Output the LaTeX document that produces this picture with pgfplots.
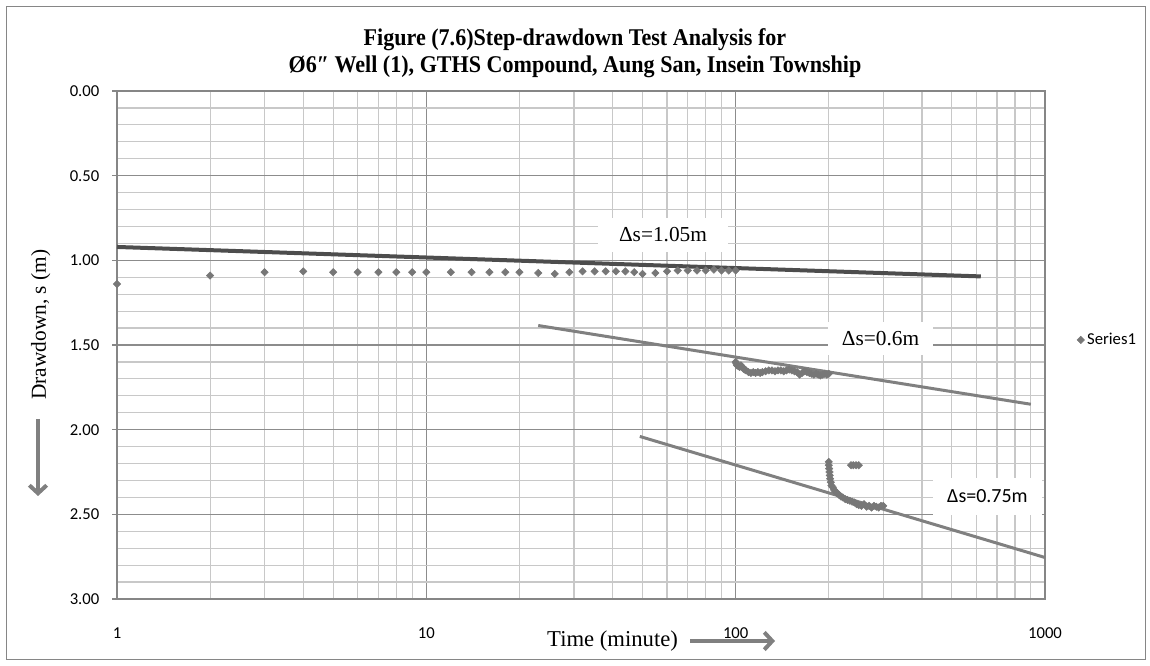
\documentclass[border=0pt]{standalone}
\usepackage{fontspec}
\setmainfont{Liberation Serif}
\newfontfamily\carlito{Carlito}
\usepackage{pgfplots}
\pgfplotsset{compat=1.18}
\usetikzlibrary{arrows.meta}

\definecolor{gridmajor}{HTML}{8C8C8C}
\definecolor{gridminor}{HTML}{C8C8C8}
\definecolor{pts}{HTML}{777777}
\definecolor{lndark}{HTML}{4D4D4D}
\definecolor{lnmid}{HTML}{808080}
\definecolor{framec}{HTML}{868686}

\begin{document}
\begin{tikzpicture}
\path[use as bounding box] (0pt,0pt) rectangle (862.5pt,499.5pt);
\draw[framec, line width=0.75pt] (4.5pt,4.5pt) rectangle (858.75pt,494.25pt);
\begin{axis}[
  at={(87.75pt,50.25pt)}, anchor=south west,
  scale only axis, width=696pt, height=381pt,
  xmode=log, xmin=1, xmax=1000,
  ymin=0, ymax=3, y dir=reverse,
  xtick={1,10,100,1000}, xticklabels={1,10,100,1000},
  minor xtick={2,3,4,5,6,7,8,9,20,30,40,50,60,70,80,90,200,300,400,500,600,700,800,900},
  ytick={0,0.5,1,1.5,2,2.5,3},
  yticklabels={0.00,0.50,1.00,1.50,2.00,2.50,3.00},
  minor ytick={0.1,0.2,0.3,0.4,0.6,0.7,0.8,0.9,1.1,1.2,1.3,1.4,1.6,1.7,1.8,1.9,2.1,2.2,2.3,2.4,2.6,2.7,2.8,2.9},
  grid=both,
  major grid style={gridmajor, line width=0.9pt},
  minor grid style={gridminor, line width=0.9pt},
  axis line style={framec, line width=0.9pt},
  tick align=outside, major tick length=3.75pt, minor tick length=0pt,
  xtick style={draw=none}, ytick style={framec, line width=0.9pt},
  ytick pos=left,
  ticklabel style={font=\carlito\fontsize{12.5}{15}\selectfont, text=black},
  xticklabel style={yshift=-14pt},
  yticklabel style={xshift=-6pt},
  clip=false,
  legend style={at={(1.03,0.51)}, anchor=west, draw=none, fill=none,
    font=\carlito\fontsize{12.5}{15}\selectfont},
  legend cell align=left,
]
% measured drawdown, one series
\addplot[only marks, mark=square*, mark size=1.95pt,
  mark options={rotate=45, fill=pts, draw=pts}] coordinates {
  (1,1.14) (2,1.09) (3,1.07) (4,1.065) (5,1.07) (6,1.07) (7,1.07) (8,1.07)
  (9,1.07) (10,1.07) (12,1.07) (14,1.07) (16,1.07) (18,1.07) (20,1.07)
  (23,1.075) (26,1.08) (29,1.07) (32,1.065) (35,1.065) (38,1.065) (41,1.065)
  (44,1.065) (47,1.07) (50,1.08) (55,1.075) (60,1.065) (65,1.06) (70,1.06)
  (75,1.06) (80,1.06) (85,1.055) (90,1.06) (95,1.06) (100,1.06)
  (100,1.60) (100.5,1.61) (101,1.62) (102,1.625) (103,1.63) (104,1.62)
  (105,1.63) (106,1.64) (107,1.645) (108,1.65) (110,1.66) (112,1.665)
  (114,1.66) (116,1.665) (118,1.66) (120,1.665) (122,1.66) (125,1.655)
  (128,1.65) (131,1.65) (134,1.655) (137,1.65) (140,1.65) (143,1.655)
  (146,1.65) (149,1.645) (152,1.65) (155,1.655) (158,1.66) (161,1.675)
  (164,1.665) (167,1.655) (170,1.66) (173,1.665) (176,1.67) (179,1.675)
  (182,1.67) (185,1.675) (188,1.68) (191,1.675) (194,1.67) (197,1.675)
  (200,1.67)
  (200,2.19) (200,2.21) (200.5,2.23) (201,2.25) (201.5,2.27) (202,2.29)
  (203,2.31) (204,2.33) (206,2.34) (208,2.355) (210,2.365) (213,2.375)
  (216,2.385) (219,2.395) (222,2.40) (226,2.41) (230,2.415) (234,2.42)
  (238,2.425) (242,2.43) (246,2.44) (250,2.445) (255,2.45) (260,2.44)
  (265,2.455) (270,2.45) (275,2.46) (280,2.45) (285,2.455) (290,2.46)
  (295,2.45) (300,2.45)
  (236,2.21) (240,2.21) (245,2.21) (250,2.21)
};
\addlegendentry{Series1}
% fitted straight lines for each step
\addplot[forget plot, lndark, line width=3pt] coordinates {(1,0.921) (620,1.095)};
\addplot[forget plot, lnmid, line width=2.25pt] coordinates {(23,1.385) (900,1.85)};
\addplot[forget plot, lnmid, line width=2.25pt] coordinates {(49,2.04) (1000,2.755)};
\end{axis}

\node[font=\bfseries\fontsize{18}{20.25}\selectfont, align=center, xscale=0.92] at (431.25pt,459.4pt)
  {Figure (7.6)Step-drawdown Test Analysis for\\Ø6″ Well (1), GTHS Compound, Aung San, Insein Township};
\node[rotate=90, font=\fontsize{16}{19}\selectfont] at (30.5pt,256pt) {Drawdown, s (m)};
\draw[lnmid, line width=3pt, -{Straight Barb[length=6pt,width=13pt]}] (28.5pt,185.25pt) -- (28.5pt,127.5pt);
\node[font=\fontsize{17}{20}\selectfont, anchor=east] at (512pt,18.75pt) {Time (minute)};
\draw[lnmid, line width=3pt, -{Straight Barb[length=6pt,width=13pt]}] (517.5pt,18.75pt) -- (581.25pt,18.75pt);

\node[fill=white, minimum width=97.5pt, minimum height=25.5pt, font=\fontsize{16}{19}\selectfont]
  at (497.25pt,323.25pt) {Δs=1.05m};
\node[fill=white, minimum width=78.75pt, minimum height=24.75pt, font=\fontsize{16}{19}\selectfont]
  at (660.4pt,245.6pt) {Δs=0.6m};
\node[fill=white, minimum width=81.75pt, minimum height=27.75pt, font=\carlito\fontsize{15}{18}\selectfont]
  at (740.6pt,127.1pt) {Δs=0.75m};
\end{tikzpicture}
\end{document}
